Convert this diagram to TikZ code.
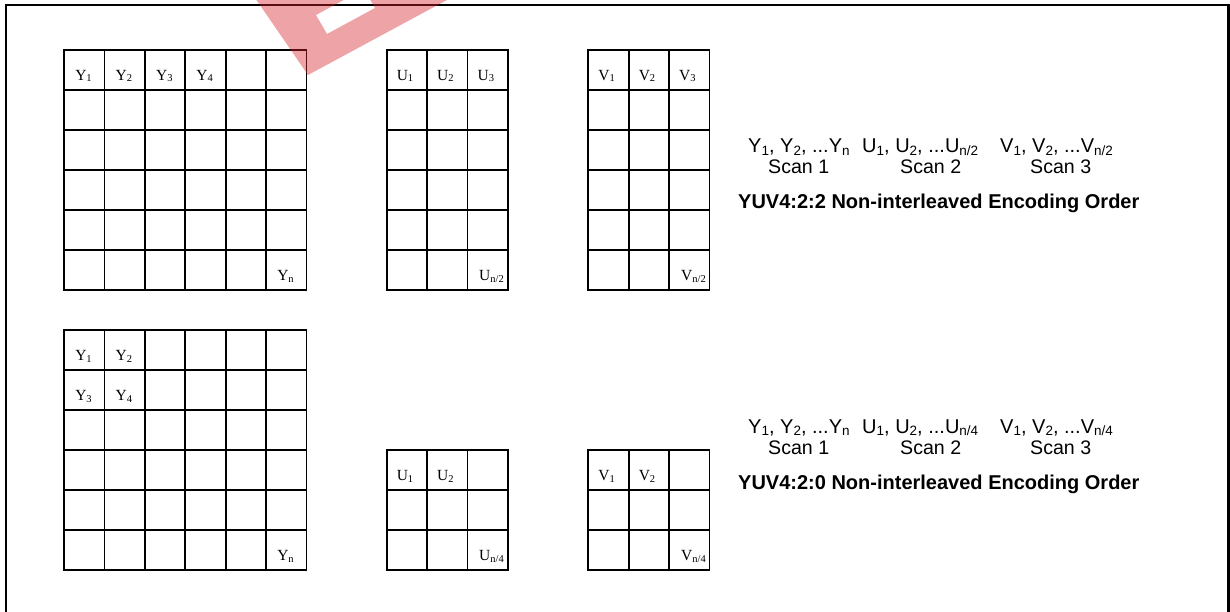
\documentclass[tikz,border=0pt]{standalone}
\usepackage{fontspec}
\setmainfont{Liberation Sans}
\newfontfamily\tnr{Liberation Serif}
\newcommand\asub[1]{\raisebox{-2.5pt}{\fontsize{13.5}{13.5}\selectfont #1}}
\newcommand\tsub[1]{\raisebox{-1.5pt}{\fontsize{10.5}{10.5}\selectfont #1}}
\tikzset{
 frameline/.style={line width=2.5pt},
 gl/.style={line width=1.8pt, line cap=rect},
 cellt/.style={anchor=base, inner sep=0pt, font=\tnr\fontsize{15.5}{15.5}\selectfont},
 cellr/.style={anchor=base east, inner sep=0pt, font=\tnr\fontsize{15.5}{15.5}\selectfont},
 seq/.style={anchor=base west, inner sep=0pt, font=\fontsize{20}{20}\selectfont},
 scan/.style={anchor=base west, inner sep=0pt, font=\fontsize{19.6}{19.6}\selectfont},
 ttl/.style={anchor=base west, inner sep=0pt, font=\bfseries\fontsize{20}{20}\selectfont},
 wm/.style={fill={rgb,255:red,215;green,35;blue,45}, fill opacity=0.42},
}
\newcommand\cellgrid[4]{%
 \foreach \i in {0,...,#3} \draw[gl] ({#1+\i*40.4},#2) -- ({#1+\i*40.4},{#2+#4*40});
 \foreach \j in {0,...,#4} \draw[gl] (#1,{#2+\j*40}) -- ({#1+#3*40.4},{#2+\j*40});
}
\begin{document}
\begin{tikzpicture}[x=1pt,y=-1pt]
\useasboundingbox (0,0) rectangle (1230,612);
\draw[frameline] (6,613) -- (6,5) -- (1228.5,5) -- (1228.5,613);
% grids
\cellgrid{64}{50}{6}{6}
\cellgrid{386.7}{50}{3}{6}
\cellgrid{588.3}{50}{3}{6}
\cellgrid{64}{330}{6}{6}
\cellgrid{386.7}{450}{3}{3}
\cellgrid{588.3}{450}{3}{3}
% 4:2:2 labels
\node[cellt] (ya1) at (83.5,80.5) {Y\tsub{1}};
\node[cellt] (ya2) at (123.9,80.5) {Y\tsub{2}};
\node[cellt] (ya3) at (164.3,80.5) {Y\tsub{3}};
\node[cellt] (ya4) at (204.7,80.5) {Y\tsub{4}};
\node[cellt] (yan) at (285.5,280.5) {Y\tsub{n}};
\node[cellt] (ua1) at (405,80.5) {U\tsub{1}};
\node[cellt] (ua2) at (445.4,80.5) {U\tsub{2}};
\node[cellt] (ua3) at (485.8,80.5) {U\tsub{3}};
\node[cellr] (uan) at (504,280.5) {U\tsub{n/2}};
\node[cellt] (va1) at (606.6,80.5) {V\tsub{1}};
\node[cellt] (va2) at (647,80.5) {V\tsub{2}};
\node[cellt] (va3) at (687.4,80.5) {V\tsub{3}};
\node[cellr] (van) at (706,280.5) {V\tsub{n/2}};
% 4:2:0 labels
\node[cellt] (yb1) at (83.5,360.5) {Y\tsub{1}};
\node[cellt] (yb2) at (123.9,360.5) {Y\tsub{2}};
\node[cellt] (yb3) at (83.5,400.5) {Y\tsub{3}};
\node[cellt] (yb4) at (123.9,400.5) {Y\tsub{4}};
\node[cellt] (ybn) at (285.5,560.5) {Y\tsub{n}};
\node[cellt] (ub1) at (405,480.5) {U\tsub{1}};
\node[cellt] (ub2) at (445.4,480.5) {U\tsub{2}};
\node[cellr] (ubn) at (504,560.5) {U\tsub{n/4}};
\node[cellt] (vb1) at (606.6,480.5) {V\tsub{1}};
\node[cellt] (vb2) at (647,480.5) {V\tsub{2}};
\node[cellr] (vbn) at (706,560.5) {V\tsub{n/4}};
% 4:2:2 text
\node[seq] (ysa) at (748,153) {Y\asub{1}, Y\asub{2}, ...Y\asub{n}};
\node[seq] (usa) at (862,153) {U\asub{1}, U\asub{2}, ...U\asub{n/2}};
\node[seq] (vsa) at (1000,153) {V\asub{1}, V\asub{2}, ...V\asub{n/2}};
\node[scan] (sa1) at (768,174) {Scan 1};
\node[scan] (sa2) at (900,174) {Scan 2};
\node[scan] (sa3) at (1030,174) {Scan 3};
\node[ttl] (ta) at (738,209) {YUV4:2:2 Non-interleaved Encoding Order};
% 4:2:0 text
\node[seq] (ysb) at (748,433) {Y\asub{1}, Y\asub{2}, ...Y\asub{n}};
\node[seq] (usb) at (862,433) {U\asub{1}, U\asub{2}, ...U\asub{n/4}};
\node[seq] (vsb) at (1000,433) {V\asub{1}, V\asub{2}, ...V\asub{n/4}};
\node[scan] (sb1) at (768,454) {Scan 1};
\node[scan] (sb2) at (900,454) {Scan 2};
\node[scan] (sb3) at (1030,454) {Scan 3};
\node[ttl] (tb) at (738,489) {YUV4:2:0 Non-interleaved Encoding Order};
% watermark
\fill[wm, even odd rule] (249.6,-10) -- (308,75) -- (465.5,-10) -- cycle
  (316,15) -- (327,34) -- (375,8) -- (364,-11) -- cycle;
\end{tikzpicture}
\end{document}
